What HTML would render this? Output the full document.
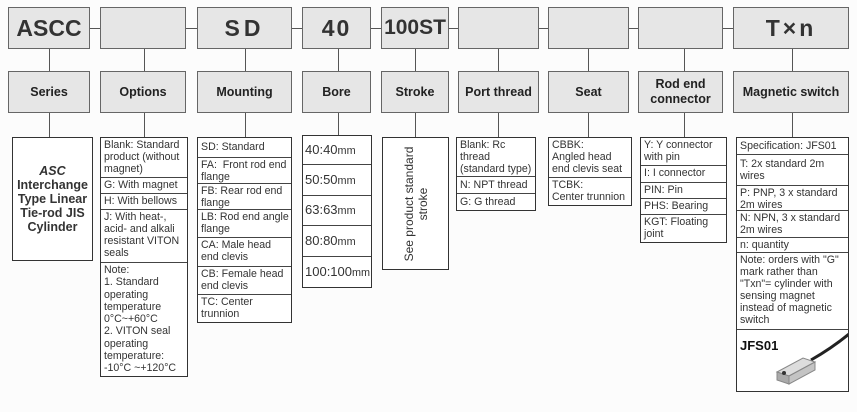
<!DOCTYPE html>
<html><head><meta charset="utf-8"><style>
body{margin:0;width:857px;height:412px;background:#fcfcfc;position:relative;overflow:hidden;font-family:"Liberation Sans",Arial,sans-serif;color:#222}
.h{position:absolute;background:#e6e6e6;border:1px solid #666;box-sizing:border-box;display:flex;align-items:center;justify-content:center;font-weight:bold}
.t{font-size:23px;color:#333}
.s{font-size:12.5px;text-align:center;line-height:15px;color:#222}
.l{position:absolute;background:#555}
.b{position:absolute;border:1px solid #333;box-sizing:border-box;background:#fff;font-size:10.6px;line-height:12px;color:#333}
.b div{border-bottom:1px solid #444;padding:1px 2px 1px 3px;box-sizing:border-box;overflow:hidden}
.b div:last-child{border-bottom:none}
</style></head><body>
<!-- top row -->
<div class="h t" style="left:8px;top:7px;width:82px;height:42px">ASCC</div>
<div class="h t" style="left:100px;top:7px;width:86px;height:42px"></div>
<div class="h t" style="left:197px;top:7px;width:95px;height:42px;letter-spacing:4px">SD</div>
<div class="h t" style="left:302px;top:7px;width:69px;height:42px;letter-spacing:2px">40</div>
<div class="h t" style="left:381px;top:7px;width:68px;height:42px;font-size:21px">100ST</div>
<div class="h t" style="left:458px;top:7px;width:81px;height:42px"></div>
<div class="h t" style="left:548px;top:7px;width:81px;height:42px"></div>
<div class="h t" style="left:638px;top:7px;width:85px;height:42px"></div>
<div class="h t" style="left:733px;top:7px;width:116px;height:42px;letter-spacing:3px">T×n</div>
<!-- horizontal connectors -->
<div class="l" style="left:90px;top:28px;width:10px;height:1px"></div>
<div class="l" style="left:186px;top:28px;width:11px;height:1px"></div>
<div class="l" style="left:292px;top:28px;width:10px;height:1px"></div>
<div class="l" style="left:371px;top:28px;width:10px;height:1px"></div>
<div class="l" style="left:449px;top:28px;width:9px;height:1px"></div>
<div class="l" style="left:539px;top:28px;width:9px;height:1px"></div>
<div class="l" style="left:629px;top:28px;width:9px;height:1px"></div>
<div class="l" style="left:723px;top:28px;width:10px;height:1px"></div>
<!-- second row -->
<div class="h s" style="left:8px;top:71px;width:82px;height:42px">Series</div>
<div class="h s" style="left:100px;top:71px;width:86px;height:42px">Options</div>
<div class="h s" style="left:197px;top:71px;width:95px;height:42px">Mounting</div>
<div class="h s" style="left:302px;top:71px;width:69px;height:42px">Bore</div>
<div class="h s" style="left:381px;top:71px;width:68px;height:42px">Stroke</div>
<div class="h s" style="left:458px;top:71px;width:81px;height:42px">Port thread</div>
<div class="h s" style="left:548px;top:71px;width:81px;height:42px">Seat</div>
<div class="h s" style="left:638px;top:71px;width:85px;height:42px">Rod end<br>connector</div>
<div class="h s" style="left:733px;top:71px;width:116px;height:42px">Magnetic switch</div>
<!-- vertical connectors -->
<div class="l" style="left:49px;top:49px;width:1px;height:22px"></div><div class="l" style="left:49px;top:113px;width:1px;height:24px"></div>
<div class="l" style="left:144px;top:49px;width:1px;height:22px"></div><div class="l" style="left:144px;top:113px;width:1px;height:24px"></div>
<div class="l" style="left:245px;top:49px;width:1px;height:22px"></div><div class="l" style="left:245px;top:113px;width:1px;height:24px"></div>
<div class="l" style="left:338px;top:49px;width:1px;height:22px"></div><div class="l" style="left:338px;top:113px;width:1px;height:22px"></div>
<div class="l" style="left:415px;top:49px;width:1px;height:22px"></div><div class="l" style="left:415px;top:113px;width:1px;height:24px"></div>
<div class="l" style="left:498px;top:49px;width:1px;height:22px"></div><div class="l" style="left:498px;top:113px;width:1px;height:24px"></div>
<div class="l" style="left:588px;top:49px;width:1px;height:22px"></div><div class="l" style="left:588px;top:113px;width:1px;height:24px"></div>
<div class="l" style="left:684px;top:49px;width:1px;height:22px"></div><div class="l" style="left:684px;top:113px;width:1px;height:24px"></div>
<div class="l" style="left:792px;top:49px;width:1px;height:22px"></div><div class="l" style="left:792px;top:113px;width:1px;height:24px"></div>
<!-- third row -->
<div class="b" style="left:12px;top:137px;width:81px;height:124px;display:flex;align-items:center;justify-content:center;text-align:center;font-weight:bold;font-size:12.5px;line-height:14px;color:#333"><span><i>ASC</i><br>Interchange<br>Type Linear<br>Tie-rod JIS<br>Cylinder</span></div>
<div class="b" style="left:100px;top:137px;width:88px;height:240px">
<div style="height:40px">Blank: Standard product (without magnet)</div>
<div style="height:16px">G: With magnet</div>
<div style="height:16px">H: With bellows</div>
<div style="height:53px">J: With heat-, acid- and alkali resistant VITON seals</div>
<div style="line-height:12.3px">Note:<br>1. Standard operating temperature 0°C~+60°C<br>2. VITON seal operating temperature: -10°C ~+120°C</div>
</div>
<div class="b" style="left:197px;top:137px;width:95px;height:186px">
<div style="height:20px;line-height:16px">SD: Standard</div>
<div style="height:26px">FA:&nbsp; Front rod end flange</div>
<div style="height:26px">FB: Rear rod end flange</div>
<div style="height:28px">LB: Rod end angle flange</div>
<div style="height:29px">CA: Male head end clevis</div>
<div style="height:28px">CB: Female head end clevis</div>
<div>TC: Center trunnion</div>
</div>
<div class="b" style="left:302px;top:135px;width:70px;height:153px;font-size:13px">
<div style="height:29px;line-height:27px;padding:0 2px">40:40<small>mm</small></div>
<div style="height:31px;line-height:29px;padding:0 2px">50:50<small>mm</small></div>
<div style="height:30px;line-height:28px;padding:0 2px">63:63<small>mm</small></div>
<div style="height:31px;line-height:29px;padding:0 2px">80:80<small>mm</small></div>
<div style="line-height:30px;padding:0 2px">100:100<small>mm</small></div>
</div>
<div class="b" style="left:382px;top:137px;width:67px;height:133px">
<div style="position:absolute;left:33px;top:66px;width:130px;transform:translate(-50%,-50%) rotate(-90deg);text-align:center;font-size:12px;line-height:14px;border:none;padding:0">See product standard stroke</div>
</div>
<div class="b" style="left:456px;top:137px;width:80px;height:74px">
<div style="height:39px">Blank: Rc thread (standard type)</div>
<div style="height:17px;line-height:14px">N: NPT thread</div>
<div style="line-height:14px">G: G thread</div>
</div>
<div class="b" style="left:548px;top:137px;width:84px;height:69px">
<div style="height:40px">CBBK:<br>Angled head end clevis seat</div>
<div>TCBK:<br>Center trunnion</div>
</div>
<div class="b" style="left:640px;top:137px;width:87px;height:106px">
<div style="height:28px">Y: Y connector with pin</div>
<div style="height:17px">I: I connector</div>
<div style="height:16px">PIN: Pin</div>
<div style="height:16px">PHS: Bearing</div>
<div>KGT: Floating joint</div>
</div>
<div class="b" style="left:736px;top:137px;width:113px;height:255px">
<div style="height:17px;line-height:14px">Specification: JFS01</div>
<div style="height:31px;padding-top:3px">T: 2x standard 2m wires</div>
<div style="height:25px">P: PNP, 3 x standard 2m wires</div>
<div style="height:27px">N: NPN, 3 x standard 2m wires</div>
<div style="height:15px">n: quantity</div>
<div style="height:77px">Note: orders with "G" mark rather than "Txn"= cylinder with sensing magnet instead of magnetic switch</div>
<div style="position:relative;height:61px">
<b style="position:absolute;left:3px;top:10px;font-size:13px;color:#111">JFS01</b>
<svg width="112" height="61" style="position:absolute;left:0;top:0">
<path d="M74 30 Q95 18 112 4" stroke="#222" stroke-width="3" fill="none"/>
<polygon points="40,42 66,28 78,32 52,46" fill="#ddd" stroke="#888"/>
<polygon points="40,42 52,46 52,54 40,50" fill="#aaa" stroke="#888"/>
<polygon points="52,46 78,32 78,40 52,54" fill="#c4c4c4" stroke="#888"/>
<circle cx="47" cy="43" r="2" fill="#333"/>
</svg>
</div>
</div>
</body></html>
